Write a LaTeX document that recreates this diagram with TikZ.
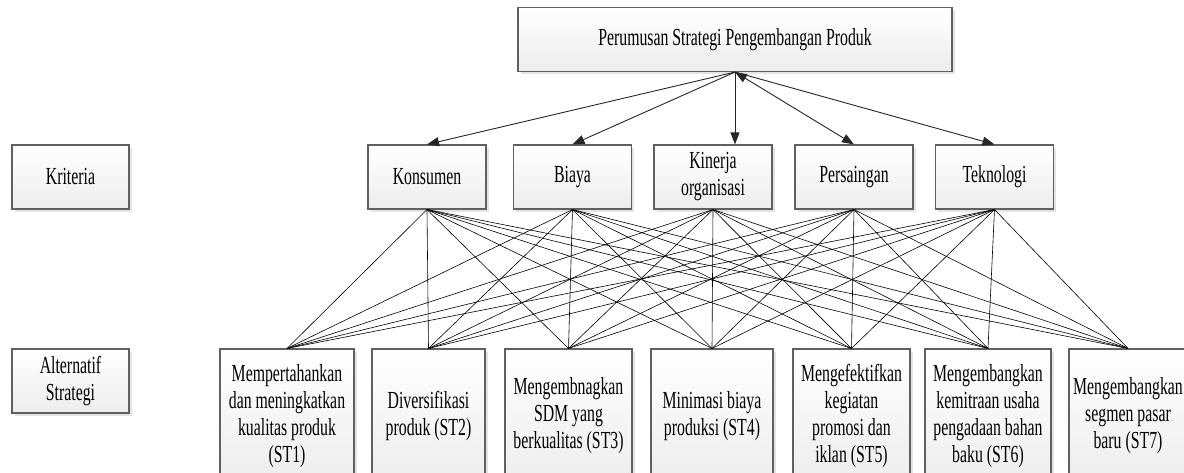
\documentclass[tikz,border=0pt]{standalone}
\usepackage{fontspec}
\setmainfont{Liberation Serif}[FakeStretch=0.645]
\usetikzlibrary{arrows.meta,shadows}
\tikzset{
  box/.style={draw=gray!75!black, line width=1.1pt, top color=white, bottom color=gray!14,
    drop shadow={shadow xshift=2.5pt, shadow yshift=-2.5pt, fill=gray!35, opacity=0.6},
    align=center, inner sep=1pt, font=\fontsize{24.5}{27}\selectfont},
  crit/.style={box, minimum width=118pt, minimum height=64pt},
  alt/.style={box, minimum height=134pt},
  arr/.style={draw=gray!30!black, line width=0.9pt, -{Triangle[length=12pt,width=9pt]}},
  link/.style={draw=black, line width=0.6pt}
}
\begin{document}
\begin{tikzpicture}[x=1pt,y=-1pt]
\useasboundingbox (0,0) rectangle (1184,472);
% top
\node[box, minimum width=434pt, minimum height=64pt] (top) at (735,39.5) {Perumusan Strategi Pengembangan Produk};
% labels
\node[crit, minimum width=117pt] (kri) at (70.5,177) {Kriteria};
\node[crit, minimum width=117pt] (als) at (70.5,381) {Alternatif\\Strategi};
% criteria
\node[crit] (c1) at (427,177) {Konsumen};
\node[crit] (c2) at (572.5,177) {Biaya};
\node[crit] (c3) at (713,177) {Kinerja\\organisasi};
\node[crit] (c4) at (854,177) {Persaingan};
\node[crit] (c5) at (994.5,177) {Teknologi};
% alternatives
\node[alt, minimum width=134pt] (a1) at (287,416) {Mempertahankan\\dan meningkatkan\\kualitas produk\\(ST1)};
\node[alt, minimum width=113pt] (a2) at (428.5,416) {Diversifikasi\\produk (ST2)};
\node[alt, minimum width=127pt] (a3) at (568.5,416) {Mengembnagkan\\SDM yang\\berkualitas (ST3)};
\node[alt, minimum width=122pt] (a4) at (712,416) {Minimasi biaya\\produksi (ST4)};
\node[alt, minimum width=117pt] (a5) at (851.5,416) {Mengefektifkan\\kegiatan\\promosi dan\\iklan (ST5)};
\node[alt, minimum width=126pt] (a6) at (988,416) {Mengembangkan\\kemitraan usaha\\pengadaan bahan\\baku (ST6)};
\node[alt, minimum width=118pt, inner sep=0pt] (a7) at (1128,416) {Mengembangkan\\segmen pasar\\baru (ST7)};
% arrows from goal to criteria
\coordinate (k3) at (top.south |- c3.north);
\draw[arr] (top.south) -- (c1.north);
\draw[arr] (top.south) -- (c2.north);
\draw[arr] (top.south) -- (k3);
\draw[arr, {Triangle[length=12pt,width=9pt]}-{Triangle[length=12pt,width=9pt]}] (top.south) -- (c4.north);
\draw[arr] (top.south) -- (c5.north);
% links criteria -> alternatives
\foreach \c in {c1,c2,c3,c4,c5}{
  \foreach \a in {a1,a2,a3,a4,a5,a6,a7}{
    \draw[link] (\c.south) -- (\a.north);
  }
}
\end{tikzpicture}
\end{document}
